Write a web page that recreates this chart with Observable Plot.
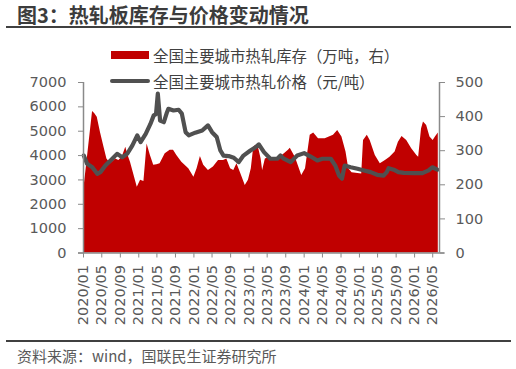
<!DOCTYPE html>
<html>
<head>
<meta charset="utf-8">
<script src="https://cdn.jsdelivr.net/npm/d3@7"></script>
<script src="https://cdn.jsdelivr.net/npm/@observablehq/plot@0.6"></script>
<style>
  html, body { margin: 0; padding: 0; background: #fff; }
  body { width: 516px; height: 369px; position: relative; overflow: hidden; font-family: "Noto Sans CJK SC", sans-serif; }
  .abs { position: absolute; white-space: nowrap; }
  #title { left: 17px; top: 4px; font-size: 20px; line-height: 22px; font-weight: bold; color: #3c3c3c; }
  #rule-top { left: 6px; top: 26px; width: 505px; height: 2px; background: #404040; }
  #rule-bottom { left: 6px; top: 340px; width: 505px; height: 2px; background: #404040; }
  #source { left: 17px; top: 347px; font-size: 15px; line-height: 18px; color: #595959; }
  #chart { left: 0; top: 40px; }
  .leg { font-size: 15.4px; line-height: 18px; color: #404040; }
  .sw-area { left: 111px; top: 51px; width: 38px; height: 8px; background: #C00000; }
  .sw-line { left: 110px; top: 79px; width: 40px; height: 4px; border-radius: 2px; background: #505050; }
</style>
</head>
<body>
<div id="title" class="abs">图3：热轧板库存与价格变动情况</div>
<div id="rule-top" class="abs"></div>
<div id="chart" class="abs"></div>
<div class="abs sw-area"></div>
<div class="abs leg" style="left:153px; top:46px;">全国主要城市热轧库存（万吨，右）</div>
<div class="abs sw-line"></div>
<div class="abs leg" style="left:153px; top:72px;">全国主要城市热轧价格（元/吨）</div>
<div id="rule-bottom" class="abs"></div>
<div id="source" class="abs">资料来源：wind，国联民生证券研究所</div>
<script>
// Hot-rolled coil inventory in major cities (10k tonnes, right axis)
const inventoryDates = [
  "2020-01-01","2020-02-01","2020-03-01","2020-03-16","2020-04-01","2020-04-22","2020-05-13","2020-06-04","2020-06-28",
  "2020-08-01","2020-08-22","2020-09-13","2020-10-07","2020-10-22","2020-11-07","2020-11-25","2020-12-22",
  "2021-01-13","2021-02-04","2021-02-25","2021-03-19","2021-04-10","2021-05-01","2021-05-22","2021-06-25",
  "2021-07-28","2021-08-19","2021-09-10","2021-10-13","2021-11-28","2022-01-01","2022-01-22","2022-02-13",
  "2022-03-07","2022-04-07","2022-05-10","2022-06-13","2022-07-16","2022-08-07","2022-09-01","2022-09-22",
  "2022-10-13","2022-11-04","2022-12-07","2022-12-28","2023-01-16","2023-02-01","2023-02-13","2023-03-04",
  "2023-03-22","2023-04-01","2023-04-19","2023-05-19","2023-07-13","2023-09-19","2023-10-01","2023-11-04",
  "2023-12-16","2024-01-10","2024-02-10","2024-03-04","2024-04-05","2024-05-19","2024-07-13","2024-08-10",
  "2024-09-07","2024-10-04","2024-10-22","2024-11-13","2025-01-16","2025-01-28","2025-02-22","2025-03-13",
  "2025-04-16","2025-05-19","2025-06-22","2025-07-22","2025-08-25","2025-09-16","2025-10-10","2025-11-10",
  "2025-12-13","2026-01-16","2026-01-28","2026-02-16","2026-03-01","2026-03-22","2026-04-13","2026-05-04",
  "2026-05-19","2026-06-07"
];
const inventoryValues = [
  178, 300, 415, 408, 398, 354, 315, 276, 262,
  276, 271, 281, 310, 286, 266, 237, 193,
  213, 210, 320, 286, 257, 259, 262, 291,
  301, 301, 286, 266, 247, 222, 247, 283,
  257, 242, 252, 271, 271, 276, 247, 242,
  262, 237, 198, 213, 247, 310, 315, 310,
  276, 242, 276, 281, 276, 301, 307, 280,
  227, 247, 345, 352, 335, 335, 345, 359,
  340, 296, 247, 235, 232, 330, 345, 330,
  286, 262, 271, 281, 296, 325, 342, 330,
  306, 286, 281, 364, 384, 374, 340, 330,
  340, 352
];

// Hot-rolled coil price in major cities (yuan/tonne, left axis)
const priceDates = [
  "2020-01-03","2020-01-25","2020-02-28","2020-04-01","2020-04-22","2020-05-25","2020-06-28","2020-08-10",
  "2020-09-13","2020-10-16","2020-11-19","2020-12-22","2021-01-13","2021-02-16","2021-03-19","2021-04-10",
  "2021-04-25","2021-05-07","2021-05-22","2021-06-16","2021-07-07","2021-07-16","2021-08-19","2021-09-22",
  "2021-10-13","2021-11-07","2021-11-28","2022-01-10","2022-02-25","2022-04-04","2022-05-01","2022-06-01",
  "2022-06-25","2022-07-16","2022-08-19","2022-09-22","2022-10-25","2022-11-25","2023-01-10","2023-02-13",
  "2023-03-07","2023-04-10","2023-05-22","2023-07-07","2023-07-28","2023-08-19","2023-10-04","2023-11-16",
  "2024-01-01","2024-02-13","2024-03-28","2024-05-01","2024-06-25","2024-07-25","2024-08-19","2024-09-07",
  "2024-09-25","2024-11-04","2024-12-19","2025-02-01","2025-03-16","2025-04-28","2025-06-10","2025-07-01",
  "2025-07-13","2025-08-16","2025-09-16","2025-10-22","2025-12-28","2026-02-22","2026-04-04","2026-04-28",
  "2026-06-01"
];
const priceValues = [
  4000, 3660, 3520, 3250, 3320, 3590, 3800, 4070,
  3930, 4070, 4410, 4830, 4550, 4890, 5300, 5650,
  5700, 6540, 5440, 5370, 5780, 5920, 5850, 5880,
  5720, 4960, 4830, 4940, 5030, 5240, 4960, 4760,
  4210, 4000, 3980, 3910, 3730, 4000, 4210, 4340,
  4460, 4140, 3870, 3870, 4000, 3870, 3730, 4000,
  4100, 3960, 3800, 3870, 3870, 3590, 3180, 3050,
  3590, 3520, 3460, 3390, 3320, 3210, 3180, 3320,
  3480, 3420, 3320, 3290, 3280, 3280, 3390, 3520,
  3420
];

// Axis ticks
const leftTicks = [0, 1000, 2000, 3000, 4000, 5000, 6000, 7000];
const rightTicks = [0, 100, 200, 300, 400, 500];
const xTickLabels = [
  "2020/01","2020/05","2020/09","2021/01","2021/05","2021/09","2022/01","2022/05","2022/09",
  "2023/01","2023/05","2023/09","2024/01","2024/05","2024/09","2025/01","2025/05","2025/09",
  "2026/01","2026/05"
];

const parse = d3.utcParse("%Y-%m-%d");
const parseTick = d3.utcParse("%Y/%m");
const fmtTick = d3.utcFormat("%Y/%m");

// right axis maps 0–500 onto the left axis 0–7000
const ratio = 7000 / 500;

const inventory = inventoryDates.map((d, i) => ({date: parse(d), value: inventoryValues[i]}));
const price = priceDates.map((d, i) => ({date: parse(d), value: priceValues[i]}));
const xTicks = xTickLabels.map(parseTick);
const xDomain = [parse("2020-01-01"), parse("2026-06-15")];

const axisColor = "#8a8a8a";
const labelColor = "#595959";
const tickFont = "DejaVu Sans, sans-serif";

const chart = Plot.plot({
  width: 516,
  height: 295,
  marginTop: 42,
  marginBottom: 82.5,
  marginLeft: 83,
  marginRight: 77,
  style: {fontFamily: tickFont, fontSize: "14.5px", color: labelColor, background: "transparent"},
  x: {type: "utc", domain: xDomain},
  y: {domain: [0, 7000]},
  marks: [
    Plot.areaY(inventory, {x: "date", y: d => d.value * ratio, fill: "#C00000"}),
    Plot.lineY(price, {x: "date", y: "value", stroke: "#505050", strokeWidth: 4.2, strokeLinejoin: "round", strokeLinecap: "round"}),
    Plot.ruleY([0], {stroke: axisColor, strokeWidth: 1.5, insetLeft: -5, insetRight: -5}),
    Plot.ruleX([xDomain[0]], {y1: 0, y2: 7000, stroke: axisColor, strokeWidth: 1.5}),
    Plot.ruleX([xDomain[1]], {y1: 0, y2: 7000, stroke: axisColor, strokeWidth: 1.5}),
    Plot.axisY({ticks: leftTicks, tickSize: 5, tickPadding: 12, stroke: axisColor, fill: labelColor, label: null, tickFormat: d => String(d)}),
    Plot.axisY({anchor: "right", ticks: rightTicks.map(v => v * ratio), tickSize: 5, tickPadding: 11, stroke: axisColor, fill: labelColor, label: null, tickFormat: d => String(Math.round(d / ratio))}),
    Plot.axisX({ticks: xTicks, tickFormat: fmtTick, tickRotate: -90, tickSize: 5, tickPadding: 7, stroke: axisColor, fill: labelColor, label: null})
  ]
});
document.getElementById("chart").appendChild(chart);
</script>
</body>
</html>
